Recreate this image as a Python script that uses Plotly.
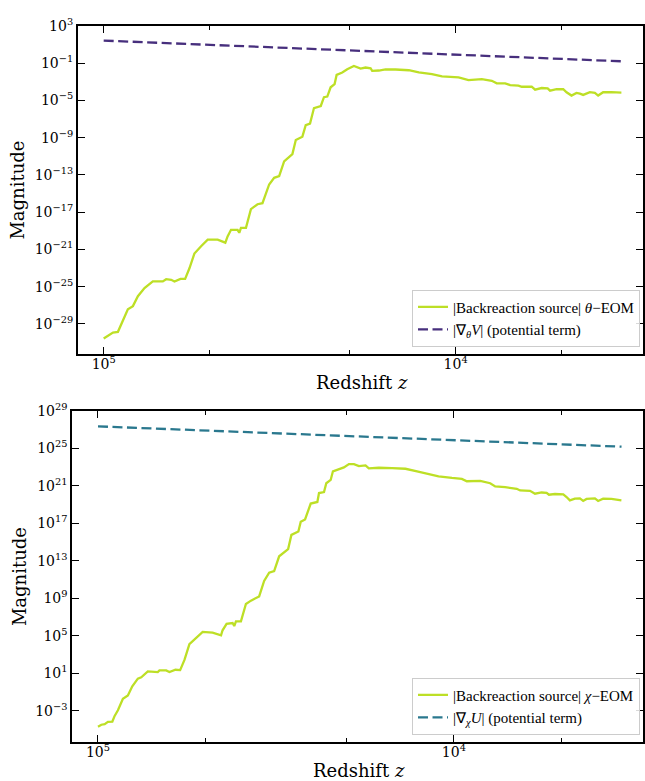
import numpy as np
import plotly.graph_objects as go

# ---------------- data ----------------
# Top panel: theta-EOM backreaction source
z_theta = [100000, 97230, 94120, 91100, 88170, 85370, 82600, 79950, 76560, 72510,
           67920, 66440, 64300, 62930, 60510, 58690, 57060, 55240, 52870, 50630,
           47440, 45120, 44450, 43470, 41640, 41180, 40730, 39420, 38160, 36550,
           35380, 33870, 32780, 31720, 30710, 29090, 28450, 27250, 26660, 25920,
           25260, 24160, 23660, 23150, 22650, 22070, 21780, 20990, 20320, 19450,
           18620, 18020, 17440, 17260, 16520, 15820, 14820, 13580, 12720, 11670,
           10930, 9806, 9187, 8423, 7889, 7638, 7229, 6998, 6628, 6487,
           6077, 5943, 5693, 5474, 5389, 5164, 4943, 4838, 4683, 4533,
           4433, 4339, 4153, 4019, 3934, 3808, 3606, 3379]
log10_src_theta = [-30.56, -30.27, -29.92, -29.85, -28.68, -27.44, -27.09, -26.03, -25.15, -24.44,
                   -24.44, -24.20, -24.26, -24.44, -24.16, -24.16, -23.03, -21.45, -20.66, -19.96,
                   -19.96, -20.28, -19.60, -18.90, -18.90, -19.22, -18.69, -18.69, -16.68, -16.15,
                   -16.04, -14.03, -13.32, -13.14, -11.55, -10.77, -9.26, -8.90, -7.67, -7.49,
                   -5.83, -5.61, -4.66, -4.60, -3.60, -3.25, -2.27, -2.01, -1.66, -1.31,
                   -1.59, -1.48, -1.56, -1.84, -1.80, -1.69, -1.69, -1.77, -2.01, -2.19,
                   -2.44, -2.54, -2.83, -2.72, -2.90, -3.18, -3.18, -3.36, -3.43, -3.54,
                   -3.54, -3.86, -3.68, -3.71, -3.96, -3.81, -3.81, -4.13, -4.49, -4.20,
                   -4.28, -4.42, -4.13, -4.20, -4.49, -4.13, -4.13, -4.17]

z_pot = [100000, 50000, 20000, 10000, 5000, 3380]
grad_theta_V = [25.7, 9.1, 2.2, 0.85, 0.28, 0.155]

# Bottom panel: chi-EOM backreaction source
z_chi = [100000, 97840, 95760, 93760, 91130, 89780, 87900, 85110, 82410, 80100,
         77270, 75580, 72440, 67920, 67180, 64330, 62970, 60580, 58770, 57150,
         55350, 53010, 50800, 47640, 45110, 44660, 43520, 41860, 41410, 40960,
         39660, 38400, 37170, 35250, 34130, 33040, 31990, 30970, 29220, 28610,
         27350, 26930, 26190, 25250, 24190, 23930, 23170, 22830, 22190, 21870,
         21040, 20370, 19720, 19090, 18490, 17710, 17340, 16250, 14920, 13680,
         12690, 11770, 11040, 10130, 9497, 9196, 8434, 7906, 7655, 7178,
         6950, 6658, 6516, 6110, 5916, 5669, 5489, 5405, 5200, 4927,
         4824, 4721, 4571, 4424, 4332, 4239, 4015, 3933, 3808, 3607, 3383]
log10_src_chi = [-4.68, -4.47, -4.40, -4.16, -4.13, -3.53, -2.93, -1.71, -1.35, -0.37,
                 0.44, 0.58, 1.21, 1.14, 1.32, 1.32, 1.14, 1.39, 1.35, 2.44,
                 4.13, 4.79, 5.42, 5.35, 5.07, 5.60, 6.29, 6.37, 6.05, 6.55,
                 6.55, 8.40, 8.76, 9.21, 10.86, 11.74, 11.92, 13.49, 14.26, 15.77,
                 16.13, 17.18, 17.42, 19.11, 19.28, 20.23, 20.34, 21.28, 21.63, 22.55,
                 22.79, 22.97, 23.32, 23.32, 23.11, 23.18, 22.86, 22.93, 22.89, 22.82,
                 22.55, 22.26, 22.02, 21.84, 21.74, 21.49, 21.53, 21.28, 20.93, 20.86,
                 20.76, 20.68, 20.51, 20.47, 20.16, 20.29, 20.26, 20.05, 20.13, 20.08,
                 19.81, 19.45, 19.63, 19.66, 19.39, 19.60, 19.66, 19.39, 19.63, 19.60, 19.45]

grad_chi_U = [2.2e27, 8.0e26, 2.0e26, 7.4e25, 2.7e25, 1.5e25]

# tick labels
x_tickvals = [1e5, 1e4]
x_ticktext = ["10<sup>5</sup>", "10<sup>4</sup>"]
x_minor = [5e4, 2e4, 5e3]
y1_exps = [3, -1, -5, -9, -13, -17, -21, -25, -29]
y2_exps = [29, 25, 21, 17, 13, 9, 5, 1, -3]

GREEN = "#bddf26"
PURPLE = "#472f7d"
TEAL = "#2a788e"
SERIF = "DejaVu Serif"
LEG_FONT = "Liberation Serif"

W, H = 645, 781

fig = go.Figure()

fig.add_trace(go.Scatter(x=z_theta, y=10 ** np.array(log10_src_theta), mode="lines",
                         line=dict(color=GREEN, width=2.3),
                         name="|Backreaction source| <i>θ</i>−EOM",
                         xaxis="x", yaxis="y", legend="legend"))
fig.add_trace(go.Scatter(x=z_pot, y=grad_theta_V, mode="lines",
                         line=dict(color=PURPLE, width=2.3, dash="10px,4.5px"),
                         name="|∇<sub><i>θ</i></sub><i>V</i>| (potential term)",
                         xaxis="x", yaxis="y", legend="legend"))
fig.add_trace(go.Scatter(x=z_chi, y=10 ** np.array(log10_src_chi), mode="lines",
                         line=dict(color=GREEN, width=2.3),
                         name="|Backreaction source| <i>χ</i>−EOM",
                         xaxis="x2", yaxis="y2", legend="legend2"))
fig.add_trace(go.Scatter(x=z_pot, y=grad_chi_U, mode="lines",
                         line=dict(color=TEAL, width=2.3, dash="10px,4.5px"),
                         name="|∇<sub><i>χ</i></sub><i>U</i>| (potential term)",
                         xaxis="x2", yaxis="y2", legend="legend2"))

tickfont = dict(family=SERIF, size=14, color="black")

def xax(domain, rng, anchor):
    return dict(type="log", domain=domain, range=rng, anchor=anchor,
                tickvals=x_tickvals, ticktext=x_ticktext,
                ticks="inside", ticklen=7, tickwidth=1.3, tickcolor="black",
                mirror="ticks", showline=True, linewidth=1.6, linecolor="black",
                showgrid=False, zeroline=False, tickfont=tickfont,
                ticklabelstandoff=-3,
                minor=dict(tickvals=x_minor, ticks="inside", ticklen=4,
                           tickwidth=1, tickcolor="black", showgrid=False))

def yax(domain, rng, anchor, exps):
    return dict(type="log", domain=domain, range=rng, anchor=anchor,
                tickvals=[10.0 ** e for e in exps],
                ticktext=["10<sup>%s</sup>" % (str(e).replace("-", "−")) for e in exps],
                ticks="inside", ticklen=7, tickwidth=1.3, tickcolor="black",
                mirror="ticks", showline=True, linewidth=1.6, linecolor="black",
                showgrid=False, zeroline=False, tickfont=tickfont)

fig.update_layout(
    width=W, height=H,
    margin=dict(l=0, r=0, t=0, b=0),
    paper_bgcolor="white", plot_bgcolor="white",
    xaxis=xax([78 / W, 1.0], [5.0737, 3.4674], "y"),
    yaxis=yax([1 - 348 / H, 1 - 16 / H], [-32.18, 3.0], "x", y1_exps),
    xaxis2=xax([72.3 / W, 1.0], [5.0728, 3.4686], "y2"),
    yaxis2=yax([1 - 741 / H, 1 - 406 / H], [-6.26, 29.0], "x2", y2_exps),
    legend=dict(x=642 / W, y=1 - 341 / H, xanchor="right", yanchor="bottom",
                bgcolor="rgba(255,255,255,0.85)", bordercolor="#cccccc", borderwidth=1,
                font=dict(family=LEG_FONT, size=15, color="black"), tracegroupgap=0),
    legend2=dict(x=642 / W, y=1 - 734 / H, xanchor="right", yanchor="bottom",
                 bgcolor="rgba(255,255,255,0.85)", bordercolor="#cccccc", borderwidth=1,
                 font=dict(family=LEG_FONT, size=15, color="black"), tracegroupgap=0),
    showlegend=True,
)

annots = [
    dict(text="Magnitude", x=18 / W, y=1 - 182 / H, textangle=-90),
    dict(text="Magnitude", x=19 / W, y=1 - 573.5 / H, textangle=-90),
    dict(text="Redshift <i>z</i>", x=363 / W, y=1 - 377 / H, textangle=0),
    dict(text="Redshift <i>z</i>", x=360 / W, y=1 - 770 / H, textangle=0),
]
for a in annots:
    fig.add_annotation(text=a["text"], x=a["x"], y=a["y"], xref="paper", yref="paper",
                       xanchor="center", yanchor="middle", textangle=a["textangle"],
                       showarrow=False, font=dict(family=SERIF, size=18, color="black"))

fig.write_html("out.html")
